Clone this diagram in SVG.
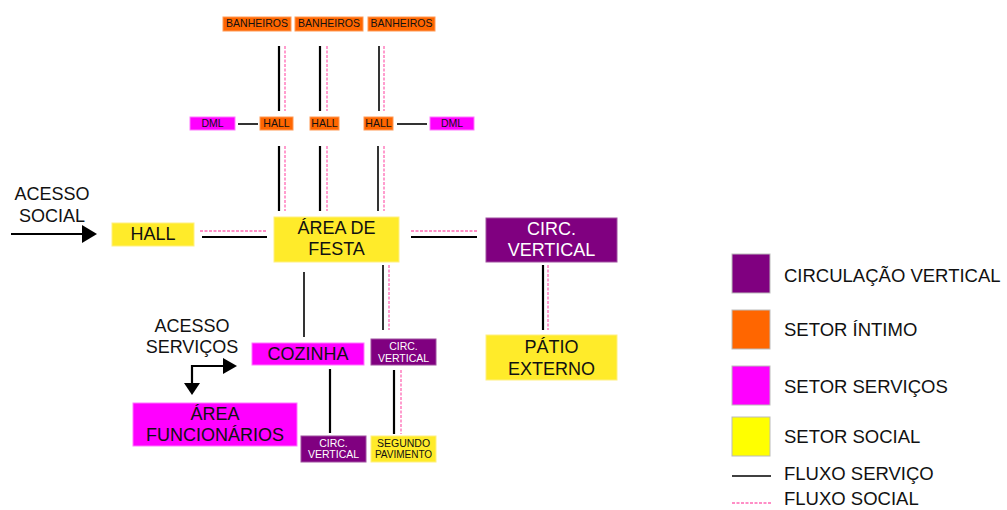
<svg xmlns="http://www.w3.org/2000/svg" width="1007" height="510" viewBox="0 0 1007 510">
<defs>
<style>
text{font-family:"Liberation Sans",Arial,sans-serif;text-anchor:middle;fill:#111}
.big{font-size:18px}
.sm{font-size:10.5px}
.lg{font-size:18.5px;text-anchor:start}
.w{fill:#fff}
.or{fill:#FF6600;stroke:#FF9955;stroke-width:1}
.mg{fill:#FF00FF;stroke:#FF77FF;stroke-width:1}
.pu{fill:#800080;stroke:#A050A0;stroke-width:1}
.ye{fill:#FFEB2A;stroke:#FFF080;stroke-width:1}
.sv{stroke:#000;stroke-width:2.2;fill:none}
.sv1{stroke:#000;stroke-width:1.6;fill:none}
.so{stroke:#FF69B4;stroke-width:1.3;stroke-dasharray:3 1.5;fill:none}
</style>
</defs>
<rect width="1007" height="510" fill="#fff"/>
<g id="connectors">
<line class="sv" x1="279" y1="46" x2="279" y2="111"/><line class="so" x1="285" y1="46" x2="285" y2="111"/>
<line class="sv" x1="320" y1="46" x2="320" y2="111"/><line class="so" x1="327" y1="46" x2="327" y2="111"/>
<line class="sv1" x1="379" y1="46" x2="379" y2="111"/><line class="so" x1="384" y1="46" x2="384" y2="111"/>
<line class="sv1" x1="238" y1="124" x2="258" y2="124"/>
<line class="sv1" x1="397" y1="124" x2="427" y2="124"/>
<line class="sv" x1="279" y1="146" x2="279" y2="211"/><line class="so" x1="285" y1="146" x2="285" y2="211"/>
<line class="sv" x1="320" y1="146" x2="320" y2="211"/><line class="so" x1="327" y1="146" x2="327" y2="211"/>
<line class="sv1" x1="378" y1="146" x2="378" y2="211"/><line class="so" x1="384" y1="146" x2="384" y2="211"/>
<line class="so" x1="200" y1="231" x2="267" y2="231"/><line class="sv" x1="202" y1="237" x2="267" y2="237"/>
<line class="so" x1="411" y1="231" x2="477" y2="231"/><line class="sv" x1="411" y1="237" x2="477" y2="237"/>
<line class="sv" x1="543" y1="265" x2="543" y2="330"/><line class="so" x1="548" y1="265" x2="548" y2="330"/>
<line class="sv1" x1="304" y1="272" x2="304" y2="337"/>
<line class="sv1" x1="383" y1="265" x2="383" y2="330"/><line class="so" x1="389" y1="265" x2="389" y2="330"/>
<line class="sv" x1="330" y1="369" x2="330" y2="433"/>
<line class="sv" x1="394" y1="370" x2="394" y2="434"/><line class="so" x1="401" y1="370" x2="401" y2="434"/>
<line stroke="#000" stroke-width="2" x1="11" y1="234" x2="84" y2="234"/>
<polygon points="82,225 97,234 82,243" fill="#000"/>
<polyline points="192,384 192,366 224,366" stroke="#000" stroke-width="2.2" fill="none"/>
<polygon points="184,383 200,383 192,395" fill="#000"/>
<polygon points="223,358 237,366 223,374" fill="#000"/>
</g>
<g id="banheiros1"><rect class="or" x="223" y="17" width="68" height="14"/><text class="sm" x="257" y="27">BANHEIROS</text></g>
<g id="banheiros2"><rect class="or" x="295" y="17" width="68" height="14"/><text class="sm" x="329" y="27">BANHEIROS</text></g>
<g id="banheiros3"><rect class="or" x="368" y="17" width="67" height="14"/><text class="sm" x="401.5" y="27">BANHEIROS</text></g>
<g id="dml1"><rect class="mg" x="190" y="117" width="45" height="13"/><text class="sm" x="212.5" y="127">DML</text></g>
<g id="hall1"><rect class="or" x="260" y="117" width="33" height="13"/><text class="sm" x="276.5" y="127">HALL</text></g>
<g id="hall2"><rect class="or" x="310" y="117" width="29" height="13"/><text class="sm" x="324.5" y="127">HALL</text></g>
<g id="hall3"><rect class="or" x="364" y="117" width="29" height="13"/><text class="sm" x="378.5" y="127">HALL</text></g>
<g id="dml2"><rect class="mg" x="430" y="117" width="44" height="13"/><text class="sm" x="452" y="127">DML</text></g>
<g id="acesso-social"><text class="big" x="52" y="200">ACESSO</text><text class="big" x="52" y="222">SOCIAL</text></g>
<g id="hall-social"><rect class="ye" x="112" y="223" width="82" height="23"/><text class="big" x="153" y="240">HALL</text></g>
<g id="area-festa"><rect class="ye" x="274" y="217" width="125" height="45"/><text class="big" x="336.5" y="234">ÁREA DE</text><text class="big" x="336.5" y="255">FESTA</text></g>
<g id="circ-vertical-1"><rect class="pu" x="486" y="218" width="131" height="44"/><text class="big w" x="551.5" y="235">CIRC.</text><text class="big w" x="551.5" y="256">VERTICAL</text></g>
<g id="patio-externo"><rect class="ye" x="486" y="335" width="131" height="45"/><text class="big" x="551.5" y="353">PÁTIO</text><text class="big" x="551.5" y="375">EXTERNO</text></g>
<g id="acesso-servicos"><text class="big" x="192" y="332">ACESSO</text><text class="big" x="192" y="353">SERVIÇOS</text></g>
<g id="cozinha"><rect class="mg" x="252" y="343" width="112" height="22"/><text class="big" x="308" y="360">COZINHA</text></g>
<g id="circ-vertical-2"><rect class="pu" x="371" y="339" width="65" height="26"/><text class="sm w" x="403.5" y="349.5">CIRC.</text><text class="sm w" x="403.5" y="361.5">VERTICAL</text></g>
<g id="area-funcionarios"><rect class="mg" x="133" y="403" width="164" height="43"/><text class="big" x="215" y="420">ÁREA</text><text class="big" x="215" y="441">FUNCIONÁRIOS</text></g>
<g id="circ-vertical-3"><rect class="pu" x="301" y="436" width="65" height="26"/><text class="sm w" x="333.5" y="446.5">CIRC.</text><text class="sm w" x="333.5" y="458">VERTICAL</text></g>
<g id="segundo-pavimento"><rect class="ye" x="371" y="436" width="65" height="26"/><text class="sm" x="403.5" y="446.5" font-size="10.3">SEGUNDO</text><text class="sm" x="403.5" y="458" style="font-size:10px">PAVIMENTO</text></g>
<g id="legend">
<rect x="732" y="254" width="38" height="39" fill="#800080" stroke="#bbb"/><text class="lg" x="784" y="282">CIRCULAÇÃO VERTICAL</text>
<rect x="732" y="310" width="38" height="39" fill="#FF6600" stroke="#bbb"/><text class="lg" x="784" y="336">SETOR ÍNTIMO</text>
<rect x="732" y="366" width="38" height="39" fill="#FF00FF" stroke="#bbb"/><text class="lg" x="784" y="393">SETOR SERVIÇOS</text>
<rect x="732" y="417" width="38" height="39" fill="#FFFF00" stroke="#bbb"/><text class="lg" x="784" y="443">SETOR SOCIAL</text>
<line x1="732" y1="476" x2="771" y2="476" stroke="#000" stroke-width="1.5"/><text class="lg" x="784" y="480">FLUXO SERVIÇO</text>
<line class="so" x1="732" y1="503" x2="771" y2="503"/><text class="lg" x="784" y="505">FLUXO SOCIAL</text>
</g>
</svg>
